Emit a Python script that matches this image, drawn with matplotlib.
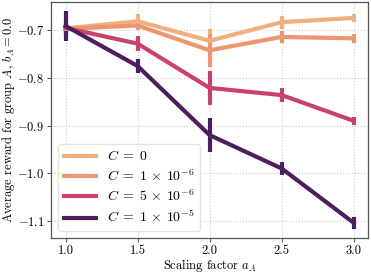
import matplotlib
matplotlib.use("Agg")
import matplotlib.pyplot as plt

plt.rcParams['font.family'] = 'serif'
plt.rcParams['font.serif'] = ['cmr10']
plt.rcParams['mathtext.fontset'] = 'cm'
plt.rcParams['axes.formatter.use_mathtext'] = True
plt.rcParams['axes.unicode_minus'] = True

a_A = [1.0, 1.5, 2.0, 2.5, 3.0]
x_ticklabels = ['1.0', '1.5', '2.0', '2.5', '3.0']
labels = [r'$C\;=\;0$', r'$C\;=\;1\,\times\,10^{-6}$', r'$C\;=\;5\,\times\,10^{-6}$', r'$C\;=\;1\,\times\,10^{-5}$']
colors = ['#efb07f', '#ec9670', '#c8426a', '#4b1f5f']

# mean reward per setting
r_c0 = [-0.696, -0.681, -0.722, -0.683, -0.674]
r_c1 = [-0.697, -0.690, -0.742, -0.714, -0.717]
r_c5 = [-0.695, -0.728, -0.821, -0.836, -0.890]
r_c10 = [-0.691, -0.775, -0.920, -0.990, -1.104]

# error bar half-widths
e_c0 = [0.020, 0.015, 0.025, 0.014, 0.008]
e_c1 = [0.012, 0.010, 0.035, 0.012, 0.009]
e_c5 = [0.010, 0.016, 0.036, 0.015, 0.009]
e_c10 = [0.031, 0.015, 0.035, 0.014, 0.013]

means = [r_c0, r_c1, r_c5, r_c10]
errs = [e_c0, e_c1, e_c5, e_c10]

fig, ax = plt.subplots(figsize=(3.71, 2.72), dpi=100)

handles = []
for m, e, c, lab in zip(means, errs, colors, labels):
    cont = ax.errorbar(a_A, m, yerr=e, color=c, label=lab, linewidth=3, elinewidth=3, capsize=0)
    handles.append(cont.lines[0])

ax.set_xticks(a_A)
ax.set_xticklabels(x_ticklabels)
ax.set_yticks([-0.7, -0.8, -0.9, -1.0, -1.1])
ax.set_ylim(-1.136, -0.641)
ax.set_xlabel(r'Scaling factor $a_A$', fontsize=9)
ax.set_ylabel(r'Average reward for group $A$, $b_A = 0.0$', fontsize=9)
ax.xaxis.set_label_coords(0.5, -0.08)
ax.yaxis.set_label_coords(-0.108, 0.5)
ax.tick_params(labelsize=9, length=3, pad=1.8, color='#555555')
ax.grid(True, linestyle=':', color='#cccccc', linewidth=0.8)
for s in ax.spines.values():
    s.set_color('#555555')
    s.set_linewidth(0.9)
ax.legend(handles=handles, labels=labels, loc='lower left', fontsize=10, handlelength=2.3,
          borderpad=0.4, labelspacing=0.35, edgecolor='#dddddd')

fig.subplots_adjust(left=0.138, right=0.992, top=0.992, bottom=0.125)
fig.savefig('out.png', dpi=100)
